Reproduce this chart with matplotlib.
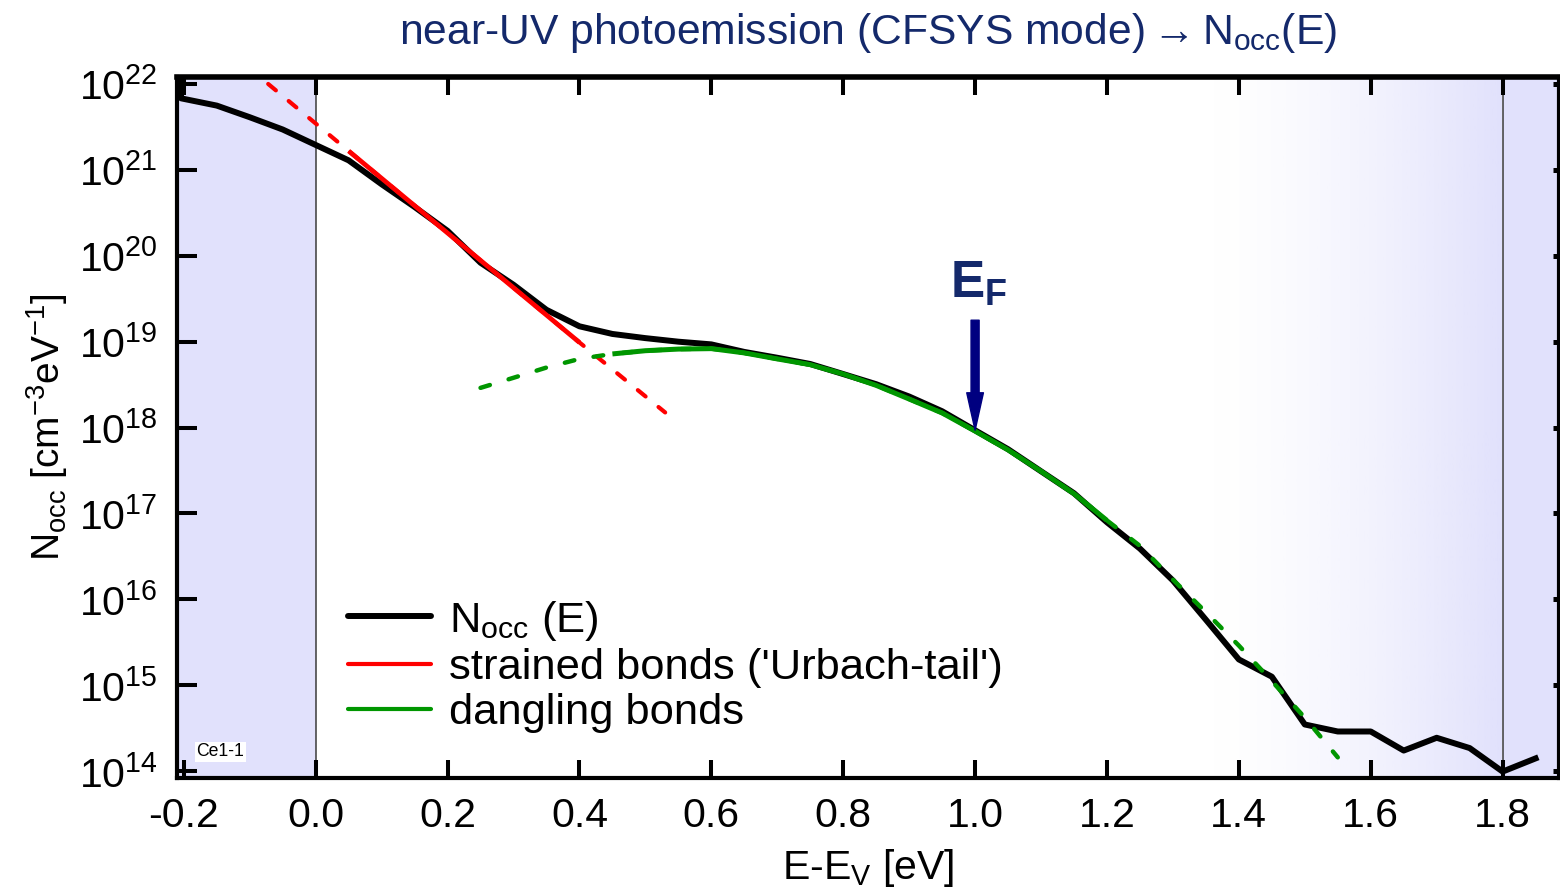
import numpy as np
import matplotlib
matplotlib.use("Agg")
import matplotlib.pyplot as plt
from matplotlib.lines import Line2D
from matplotlib.ticker import FixedLocator, FixedFormatter, NullLocator

# ---------------------------------------------------------------- data
# occupied density of states from near-UV photoemission (CFSYS), in cm^-3 eV^-1
energy = [-0.205, -0.204, -0.15, -0.10, -0.05, 0.00, 0.05, 0.10, 0.15, 0.20,
          0.25, 0.30, 0.35, 0.40, 0.45, 0.50, 0.55, 0.60, 0.65, 0.70,
          0.75, 0.80, 0.85, 0.90, 0.95, 1.00, 1.05, 1.10, 1.15, 1.20,
          1.25, 1.30, 1.35, 1.40, 1.45, 1.50, 1.55, 1.60, 1.65, 1.70,
          1.75, 1.80, 1.85]
n_occ = [1.07e22, 6.8e21, 5.6e21, 4.1e21, 2.95e21, 1.95e21, 1.29e21, 6.8e20, 3.7e20, 1.95e20,
         8.3e19, 4.6e19, 2.35e19, 1.51e19, 1.23e19, 1.10e19, 1.00e19, 9.3e18, 7.6e18, 6.5e18,
         5.5e18, 4.2e18, 3.2e18, 2.3e18, 1.55e18, 9.3e17, 5.6e17, 3.1e17, 1.72e17, 7.9e16,
         3.9e16, 1.66e16, 5.8e15, 2.0e15, 1.26e15, 3.5e14, 2.9e14, 2.9e14, 1.74e14, 2.45e14,
         1.86e14, 9.9e13, 1.41e14]

# exponential valence band tail (strained bonds, 'Urbach tail')
energy_urbach = [-0.072, 0.05, 0.40, 0.53]
n_urbach = [1.0e22, 1.66e21, 9.8e18, 1.5e18]
urbach_fit_range = (0.05, 0.40)

# gaussian defect band (dangling bonds)
energy_db = [0.25, 0.30, 0.35, 0.40, 0.45, 0.50, 0.55, 0.60, 0.65, 0.70,
             0.75, 0.80, 0.85, 0.90, 0.95, 1.00, 1.05, 1.10, 1.15, 1.20,
             1.25, 1.30, 1.35, 1.40, 1.45, 1.50, 1.55]
n_db = [2.9e18, 3.8e18, 5.0e18, 6.3e18, 7.2e18, 7.85e18, 8.2e18, 8.3e18, 7.4e18, 6.3e18,
        5.4e18, 4.2e18, 3.1e18, 2.15e18, 1.48e18, 9.1e17, 5.5e17, 3.1e17, 1.70e17, 8.3e16,
        4.2e16, 1.70e16, 7.1e15, 2.9e15, 1.12e15, 4.2e14, 1.45e14]
db_fit_range = (0.45, 1.20)

e_fermi = 1.00
n_at_fermi = 9.3e17
band_gap_edges = (0.0, 1.8)

x_ticks = [-0.2, 0.0, 0.2, 0.4, 0.6, 0.8, 1.0, 1.2, 1.4, 1.6, 1.8]
x_tick_labels = ['-0.2', '0.0', '0.2', '0.4', '0.6', '0.8', '1.0', '1.2', '1.4', '1.6', '1.8']
y_ticks = [1e14, 1e15, 1e16, 1e17, 1e18, 1e19, 1e20, 1e21, 1e22]
y_tick_labels = [r'$10^{%d}$' % k for k in range(14, 23)]

legend_labels = [r'N$_{\mathrm{occ}}$ (E)', "strained bonds ('Urbach-tail')", 'dangling bonds']

# ---------------------------------------------------------------- style
base = 'Liberation Sans'
plt.rcParams['font.family'] = [base, 'DejaVu Sans']
plt.rcParams['mathtext.fontset'] = 'custom'
plt.rcParams['mathtext.rm'] = base
plt.rcParams['mathtext.it'] = base + ':italic'
plt.rcParams['mathtext.bf'] = base + ':bold'
plt.rcParams['mathtext.sf'] = base
plt.rcParams['mathtext.default'] = 'regular'
plt.rcParams['axes.unicode_minus'] = False

TICK_FS = 29.5
LABEL_FS = 29.5
LEGEND_FS = 31.3
TITLE_FS = 30.7

lavender = '#e1e1fc'
navy_text = '#14296b'
navy_arrow = '#000080'
red = '#ff0000'
green = '#009600'

# ---------------------------------------------------------------- figure
fig = plt.figure(figsize=(15.6, 8.9), dpi=100)
ax = fig.add_axes([177 / 1560, 1 - 778 / 890, (1559 - 177) / 1560, (778 - 77) / 890])
ax.set_yscale('log')
xlim = (-0.2103, 1.8855)
ylim = (10 ** 13.921, 10 ** 22.081)

# shaded regions outside the band gap, with a soft ramp towards the conduction band
ax.axvspan(xlim[0], band_gap_edges[0], color=lavender, lw=0, zorder=0)
ax.axvspan(band_gap_edges[1], xlim[1], color=lavender, lw=0, zorder=0)
t = np.linspace(0, 1, 400)
ramp = np.zeros((1, t.size, 4))
ramp[..., :3] = matplotlib.colors.to_rgb(lavender)
ramp[..., 3] = t ** 1.5
ax.imshow(ramp, extent=(1.35, band_gap_edges[1], 0, 1), transform=ax.get_xaxis_transform(),
          aspect='auto', interpolation='bilinear', zorder=0)
for xe in band_gap_edges:
    ax.axvline(xe, color='#3a3a3a', lw=1.1, zorder=1)

# measured density of occupied states
ax.plot(energy, n_occ, color='black', lw=4.3, solid_joinstyle='round', zorder=3)

# Urbach tail: dashed extrapolation, solid over the fitted range
urb_e = np.array(energy_urbach)
urb_n = np.array(n_urbach)
ax.plot(urb_e, urb_n, color=red, lw=3.0, ls=(0, (2.4, 4.0)), dash_capstyle='round', zorder=4)
m = (urb_e >= urbach_fit_range[0]) & (urb_e <= urbach_fit_range[1])
ax.plot(urb_e[m], urb_n[m], color=red, lw=3.4, solid_capstyle='butt', zorder=4)

# dangling bond band: dashed extrapolation, solid over the fitted range
db_e = np.array(energy_db)
db_n = np.array(n_db)
ax.plot(db_e, db_n, color=green, lw=3.2, ls=(0, (2.2, 4.4)), dash_capstyle='round', zorder=4)
m = (db_e >= db_fit_range[0]) & (db_e <= db_fit_range[1])
ax.plot(db_e[m], db_n[m], color=green, lw=3.6, solid_capstyle='butt', zorder=4)

# Fermi level marker
ax.annotate('', xy=(e_fermi, n_at_fermi), xytext=(e_fermi, 10 ** 19.25),
            arrowprops=dict(arrowstyle='simple,head_length=2.7,head_width=1.2,tail_width=0.58',
                            mutation_scale=10, color=navy_arrow, shrinkA=0, shrinkB=0),
            zorder=5)
ax.text(e_fermi + 0.006, 10 ** 19.51, r'$\mathbf{E}_{\mathbf{F}}$', color=navy_text,
        fontsize=37, ha='center', va='baseline', zorder=5)

# sample tag
ax.text(-0.181, 10 ** 14.227, 'Ce1-1', fontsize=12.7, ha='left', va='center',
        bbox=dict(facecolor='white', edgecolor='none', pad=1.0), zorder=5)

# ---------------------------------------------------------------- axes
ax.set_xlim(*xlim)
ax.set_ylim(*ylim)
ax.xaxis.set_major_locator(FixedLocator(x_ticks))
ax.xaxis.set_major_formatter(FixedFormatter(x_tick_labels))
ax.yaxis.set_major_locator(FixedLocator(y_ticks))
ax.yaxis.set_major_formatter(FixedFormatter(y_tick_labels))
ax.xaxis.set_minor_locator(NullLocator())
ax.yaxis.set_minor_locator(NullLocator())

ax.tick_params(axis='x', which='major', direction='in', length=13, width=2.9,
               top=True, bottom=True, labelsize=TICK_FS, pad=14)
ax.tick_params(axis='y', which='major', direction='in', length=14.5, width=2.9,
               left=True, right=True, labelsize=TICK_FS, pad=14)
for tk in ax.yaxis.get_major_ticks():
    tk.tick2line.set_markersize(4.5)
    tk.tick2line.set_markeredgewidth(3.6)

for side in ['left', 'right', 'top', 'bottom']:
    ax.spines[side].set_linewidth(3.0)
ax.spines['top'].set_linewidth(4.0)

ax.set_xlabel(r'E-E$_{\mathrm{V}}$ [eV]', fontsize=LABEL_FS, labelpad=8)
ax.set_ylabel(r'N$_{\mathrm{occ}}$ [cm$^{-3}$eV$^{-1}$]', fontsize=28, labelpad=6)
ax.set_title(r'near-UV photoemission (CFSYS mode)$\rightarrow$N$_{\mathrm{occ}}$(E)',
             fontsize=TITLE_FS, color=navy_text, pad=24)

handles = [Line2D([], [], color='black', lw=4.3, solid_capstyle='round'),
           Line2D([], [], color=red, lw=3.0, solid_capstyle='round'),
           Line2D([], [], color=green, lw=3.0, solid_capstyle='round')]
ax.legend(handles, legend_labels, loc='center left', bbox_to_anchor=(0.124, 0.16),
          frameon=False, fontsize=LEGEND_FS, handlelength=1.9, handletextpad=0.42,
          labelspacing=0.12, borderpad=0, borderaxespad=0)

fig.savefig('out.png', dpi=100)
